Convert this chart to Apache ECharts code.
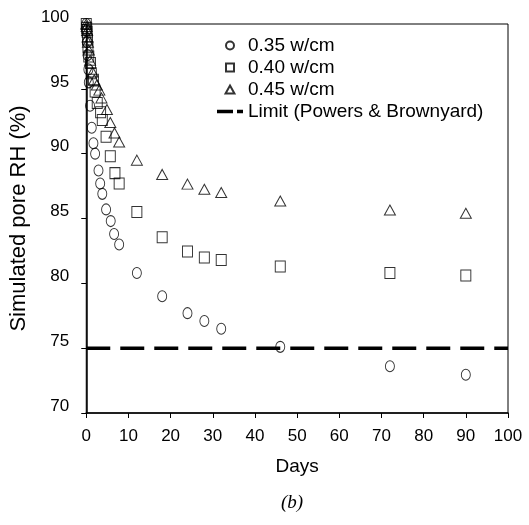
<!DOCTYPE html>
<html><head><meta charset="utf-8">
<script src="https://cdn.jsdelivr.net/npm/echarts@6/dist/echarts.min.js"></script>
<style>html,body{margin:0;padding:0;background:#fff}#c{width:529px;height:525px}</style>
</head><body><div id="c"></div>
<script>
// Data (days, simulated pore RH %)
const seriesNames = ['0.35 w/cm', '0.40 w/cm', '0.45 w/cm', 'Limit (Powers & Brownyard)'];
const rh035 = [[0,100],[0.1,99.5],[0.2,98.6],[0.3,97.6],[0.5,96.5],[0.6,95.5],[0.9,93.7],[1.3,92.0],[1.7,90.8],[2.1,90.0],[2.9,88.7],[3.3,87.7],[3.8,86.9],[4.7,85.7],[5.8,84.8],[6.6,83.8],[7.8,83.0],[12,80.8],[18,79.0],[24,77.7],[28,77.1],[32,76.5],[46,75.1],[72,73.6],[90,72.95]];
const rh040 = [[0,100],[0.1,99.7],[0.2,99.4],[0.3,98.8],[0.4,98.2],[0.6,97.5],[1.0,97.0],[1.2,96.2],[1.7,95.7],[2.1,94.8],[2.6,93.9],[3.4,93.2],[3.8,92.6],[4.7,91.3],[5.7,89.8],[6.8,88.5],[7.8,87.7],[12,85.5],[18,83.55],[24,82.45],[28,82.0],[32,81.8],[46,81.3],[72,80.8],[90,80.6]];
const rh045 = [[0,100],[0.1,99.8],[0.2,99.5],[0.3,99.0],[0.4,98.6],[0.6,98.0],[0.9,97.2],[1.5,96.3],[1.9,95.7],[2.5,95.3],[3.1,94.9],[3.6,94.3],[4.9,93.4],[5.7,92.4],[6.7,91.6],[7.8,90.9],[12,89.5],[18,88.4],[24,87.65],[28,87.25],[32,87.0],[46,86.35],[72,85.65],[90,85.4]];
const limitLine = [[0,75],[100,75]];
const xTicks = {min:0, max:100, interval:10};
const yTicks = {min:70, max:100, interval:5};

const chart = echarts.init(document.getElementById('c'), null, {renderer:'canvas'});
const font = 'Liberation Sans, Arial, sans-serif';
const hollow = {color:'rgba(0,0,0,0)', borderColor:'#000', borderWidth:1};
chart.setOption({
  animation:false,
  backgroundColor:'#fff',
  grid:{left:86, right:21, top:24, bottom:112, show:true, borderColor:'#000', borderWidth:1, backgroundColor:'transparent'},
  legend:{
    orient:'vertical', left:212, top:31, itemGap:3, itemWidth:26, itemHeight:8,
    data:[
      {name:seriesNames[0], icon:'circle'},
      {name:seriesNames[1], icon:'path://M0,0L10,0L10,10L0,10Z'},
      {name:seriesNames[2], icon:'path://M5,0L10,9L0,9Z'},
      {name:seriesNames[3], icon:'path://M0,0L16,0L16,3.5L0,3.5Z M20,0L26,0L26,3.5L20,3.5Z',
       itemStyle:{color:'#000', borderWidth:0}}
    ],
    textStyle:{fontFamily:font, fontSize:19, color:'#000'}
  },
  xAxis:{
    type:'value', min:xTicks.min, max:xTicks.max, interval:xTicks.interval,
    name:'Days', nameLocation:'middle', nameGap:44,
    nameTextStyle:{fontFamily:font, fontSize:19, color:'#000'},
    axisLine:{lineStyle:{color:'#000', width:1.5}},
    axisTick:{show:true, inside:false, length:5, lineStyle:{color:'#000'}},
    axisLabel:{fontFamily:font, fontSize:17, color:'#000', margin:15},
    splitLine:{show:false}
  },
  yAxis:{
    type:'value', min:yTicks.min, max:yTicks.max, interval:yTicks.interval,
    name:'Simulated pore RH (%)', nameLocation:'middle', nameGap:53,
    nameTextStyle:{fontFamily:font, fontSize:22, color:'#000'},
    axisLine:{show:true, lineStyle:{color:'#000', width:1.5}},
    axisTick:{show:true, inside:false, length:5, lineStyle:{color:'#000'}},
    axisLabel:{fontFamily:font, fontSize:17, color:'#000', margin:17, verticalAlign:'bottom', lineHeight:14},
    splitLine:{show:false}
  },
  title:{text:'(b)', left:276, top:488, textStyle:{fontFamily:'Liberation Serif, Times New Roman, serif', fontStyle:'italic', fontWeight:'normal', fontSize:19, color:'#000'}},
  series:[
    {name:seriesNames[3], type:'line', data:limitLine, symbol:'none', z:1,
     lineStyle:{color:'#000', width:3.5, type:[24,10]}, itemStyle:{color:'#000'}},
    {name:seriesNames[0], type:'scatter', data:rh035, symbol:'circle', symbolSize:[9,11], itemStyle:hollow, z:3},
    {name:seriesNames[1], type:'scatter', data:rh040, symbol:'rect', symbolSize:[10,11], itemStyle:hollow, z:3},
    {name:seriesNames[2], type:'scatter', data:rh045, symbol:'triangle', symbolSize:[11,10], itemStyle:hollow, z:3}
  ]
});
</script></body></html>
